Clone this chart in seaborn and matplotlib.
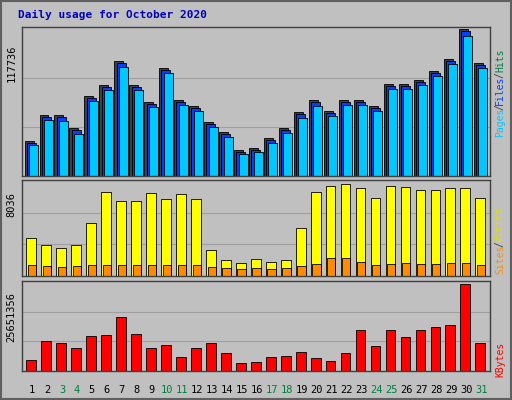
import matplotlib
matplotlib.use("Agg")
import matplotlib.pyplot as plt
import seaborn as sns
import numpy as np

sns.set_style("white")
plt.rcParams['font.family'] = ['DejaVu Sans Mono', 'DejaVu Sans']

days = list(range(1, 32))
weekend = [3, 4, 10, 11, 17, 18, 24, 25, 31]
hits = [28035, 48861, 48861, 38448, 64080, 72891, 92115, 72891, 59274, 86508, 60876, 56070, 43254, 35244, 20826,
        22428, 30438, 38448, 51264, 60876, 52065, 60876, 60876, 56070, 73692, 73692, 76896, 84105, 93717, 117736, 90513]
files = [26500, 47300, 47300, 36900, 62500, 71300, 90500, 71300, 57700, 84900, 59300, 54500, 41700, 33700, 19300,
         20900, 28900, 36900, 49700, 59300, 50500, 59300, 59300, 54500, 72100, 72100, 75300, 82500, 92100, 116100, 88900]
pages = [24800, 44900, 44200, 33800, 60000, 68800, 87500, 68800, 55200, 82500, 56800, 52000, 39300, 31300, 17700,
         19300, 26500, 34500, 46500, 56000, 48100, 56800, 56800, 52000, 69600, 69600, 72800, 80000, 89600, 112000, 86500]
visits = [3318, 2707, 2445, 2707, 4628, 7335, 6550, 6550, 7248, 6724, 7160, 6724, 2270, 1397, 1135,
          1484, 1222, 1397, 4191, 7335, 7858, 8036, 7684, 6811, 7858, 7771, 7510, 7510, 7684, 7684, 6811]
sites = [960, 880, 790, 880, 960, 1000, 1000, 960, 960, 960, 960, 960, 790, 700, 610,
         700, 610, 700, 880, 1050, 1570, 1570, 1220, 1000, 1050, 1130, 1050, 1050, 1130, 1130, 1000]
kbytes = [3.24e6, 8.85e6, 8.26e6, 6.78e6, 10.32e6, 10.61e6, 15.92e6, 10.91e6, 6.78e6, 7.67e6, 4.13e6, 6.78e6, 8.26e6,
          5.31e6, 2.36e6, 2.65e6, 4.13e6, 4.42e6, 5.6e6, 3.83e6, 2.95e6, 5.31e6, 12.09e6, 7.37e6, 12.09e6, 10.02e6,
          12.09e6, 12.97e6, 13.56e6, 25651356, 8.26e6]

BG = "#C0C0C0"
fig = plt.figure(figsize=(5.12, 4.0), dpi=100, facecolor=BG)
fig.patches.append(plt.Rectangle((0.002, 0.002), 0.996, 0.996, transform=fig.transFigure,
                                 fill=False, edgecolor="#606060", lw=1.5))
fig.text(0.035, 0.962, "Daily usage for October 2020", color="#0000C0", fontsize=8,
         fontweight="bold", va="center")

L, W = 22 / 512, 468 / 512
axes = [fig.add_axes([L, 1 - 176 / 400, W, 149 / 400]),
        fig.add_axes([L, 1 - 276 / 400, W, 96 / 400]),
        fig.add_axes([L, 1 - 371 / 400, W, 90 / 400])]
x = np.array(days, dtype=float)


def bars(ax, xs, vals, color, width):
    sns.barplot(x=xs, y=vals, native_scale=True, ax=ax, color=color, width=width,
                edgecolor="black", linewidth=0.6, saturation=1)


bars(axes[0], x - 0.2, hits, "#404040", 0.6)
bars(axes[0], x - 0.05, files, "#0040FF", 0.6)
bars(axes[0], x + 0.1, pages, "#00C8FF", 0.6)
bars(axes[1], x - 0.05, visits, "#FFFF00", 0.65)
bars(axes[1], x + 0.0, sites, "#FF8C00", 0.55)
bars(axes[2], x - 0.05, kbytes, "#FF0000", 0.65)

tops = [117736 * 149 / 147, 8036 * 96 / 92, 25651356 * 90 / 87]
labels = ["117736", "8036", "25651356"]
for ax, top, lab in zip(axes, tops, labels):
    ax.set_facecolor(BG)
    ax.set_xlim(0.33, 31.6)
    ax.set_ylim(0, top)
    ax.set_xticks([]); ax.set_yticks([])
    ax.set_xlabel(""); ax.set_ylabel("")
    for s in ax.spines.values():
        s.set_color("#404040"); s.set_linewidth(1)
    for f in (0.33, 0.66):
        ax.axhline(top * f, color="#A0A0A0", lw=0.8, zorder=0)
    ax.text(-0.012, 0.88, lab, transform=ax.transAxes, rotation=90, ha="right",
            va="top", fontsize=7.5, color="black")

for d in days:
    fig.text((22 + (d - 0.33) * 14.97) / 512, 1 - 390 / 400, str(d), ha="center", va="center",
             fontsize=7.5, color="#008040" if d in weekend else "black")


def side(parts, y0, step):
    y = y0
    for t, c in parts:
        fig.text(500 / 512, y, t, rotation=90, color=c, fontsize=7, ha="center", va="bottom")
        y += len(t) * step


side([("Pages", "#00C8FF"), ("/", "#404040"), ("Files", "#0040FF"), ("/", "#404040"),
      ("Hits", "#008040")], 1 - 137 / 400, 0.0135)
side([("Sites", "#FF8C00"), ("/", "#404040"), ("Visits", "#E0E000")], 1 - 274 / 400, 0.0135)
side([("KBytes", "#FF0000")], 1 - 377 / 400, 0.0135)

fig.savefig("out.png", dpi=100, facecolor=BG)
